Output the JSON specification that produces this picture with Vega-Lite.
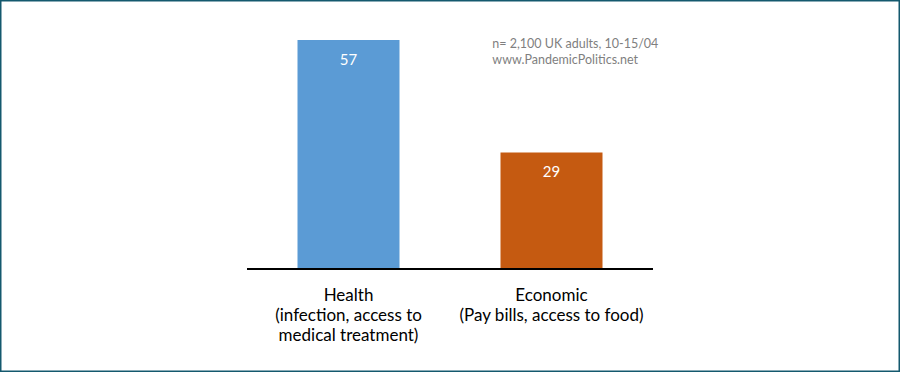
{
  "$schema": "https://vega.github.io/schema/vega-lite/v6.json",
  "width": 900,
  "height": 372,
  "padding": 0,
  "autosize": {"type": "fit", "contains": "padding"},
  "background": "white",
  "config": {
    "view": {"stroke": "#14596E", "strokeWidth": 3},
    "font": "Lato"
  },
  "data": {
    "values": [
      {"category": "Health", "label": ["Health", "(infection, access to", "medical treatment)"], "value": 57},
      {"category": "Economic", "label": ["Economic", "(Pay bills, access to food)"], "value": 29}
    ]
  },
  "encoding": {
    "x": {
      "field": "category",
      "type": "nominal",
      "scale": {"type": "band", "domain": ["left gap", "Health", "Economic", "right gap"], "paddingInner": 0.4975, "paddingOuter": 0.4655},
      "axis": null
    }
  },
  "layer": [
    {
      "mark": {"type": "bar"},
      "encoding": {
        "y": {"field": "value", "type": "quantitative", "scale": {"domain": [-25.62, 66.92], "nice": false, "zero": false}, "axis": null},
        "color": {"field": "category", "type": "nominal", "scale": {"domain": ["Health", "Economic"], "range": ["#5B9BD5", "#C55A11"]}, "legend": null}
      }
    },
    {
      "mark": {"type": "text", "color": "white", "fontSize": 15, "baseline": "alphabetic", "dy": 25},
      "encoding": {
        "y": {"field": "value", "type": "quantitative"},
        "text": {"field": "value", "type": "quantitative"}
      }
    },
    {
      "mark": {"type": "text", "color": "black", "fontSize": 17, "baseline": "alphabetic", "lineHeight": 20},
      "encoding": {
        "y": {"datum": -7.96},
        "text": {"field": "label"}
      }
    },
    {
      "data": {"values": [{"baseline": 0}]},
      "mark": {"type": "rule", "color": "black", "strokeWidth": 2},
      "encoding": {
        "x": {"datum": "Health", "bandPosition": -0.495},
        "x2": {"datum": "Economic", "bandPosition": 1.495},
        "y": {"field": "baseline", "type": "quantitative"}
      }
    },
    {
      "data": {"values": [{"note": ["n= 2,100 UK adults, 10-15/04", "www.PandemicPolitics.net"], "anchor": "Economic", "level": 54.9}]},
      "mark": {"type": "text", "color": "#7F7F7F", "fontSize": 12.5, "align": "left", "baseline": "alphabetic", "lineHeight": 16},
      "encoding": {
        "x": {"field": "anchor", "type": "nominal", "bandPosition": -0.08},
        "y": {"field": "level", "type": "quantitative"},
        "text": {"field": "note"}
      }
    }
  ]
}
